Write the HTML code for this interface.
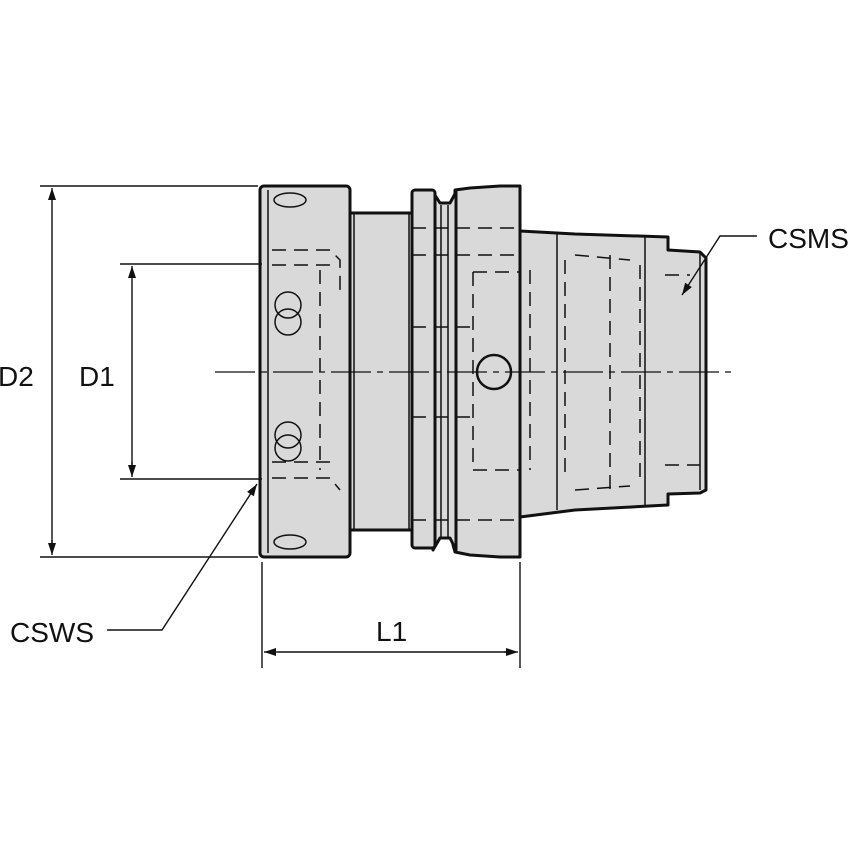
<!DOCTYPE html>
<html><head><style>
html,body{margin:0;padding:0;background:#fff;}
svg{display:block;}
text{font-family:"Liberation Sans",sans-serif;font-size:28px;fill:#111;}
</style></head><body>
<svg width="854" height="854" viewBox="0 0 854 854" xmlns="http://www.w3.org/2000/svg">
<defs>
<marker id="a" viewBox="0 0 12 8" refX="12" refY="4" markerWidth="14" markerHeight="8" orient="auto" markerUnits="userSpaceOnUse"><path d="M0,0 L12,4 L0,8 z" fill="#111"/></marker>
</defs>
<g fill="#d9d9d9" stroke="#111" stroke-width="3" stroke-linejoin="round">
<path d="M520,231 L575,234 L668,237 L668,250 L700,252 L706,258 L706,490 L700,493 L668,494 L668,505 L575,510 L520,517 Z"/>
<path d="M455,190 L470,188 L500,186 L520,186 L520,557 L500,557 L470,555 L455,552 L453,545 Z"/>
<path d="M433,192 L440,203 L450,203 L456,192 L456,550 L450,538 L440,538 L433,550 Z"/>
<rect x="412" y="190" width="23" height="358" rx="3"/>
<rect x="350" y="213" width="62" height="317"/>
<rect x="260" y="186" width="90" height="371" rx="4"/>
</g>
<g fill="none" stroke="#111" stroke-width="1.5">
<line x1="268" y1="190" x2="268" y2="553"/>
<line x1="354" y1="213" x2="354" y2="530"/>
<line x1="409" y1="213" x2="409" y2="530"/>
<line x1="441" y1="205" x2="441" y2="538"/>
<line x1="448" y1="205" x2="448" y2="538"/>
<line x1="557" y1="234" x2="557" y2="510"/>
<line x1="645" y1="237" x2="645" y2="505"/>
<line x1="700" y1="252" x2="700" y2="490"/>
<ellipse cx="290" cy="200" rx="16" ry="7"/>
<ellipse cx="290" cy="542" rx="16" ry="7"/>
<circle cx="288" cy="305" r="13"/><circle cx="288" cy="322" r="13"/>
<circle cx="288" cy="435" r="13"/><circle cx="288" cy="448" r="13"/>
</g>
<g fill="none" stroke="#111" stroke-width="1.5" stroke-dasharray="14,8">
<path d="M272,250 L330,250 L340,260 L340,290 M272,265 L330,265 M320,270 L320,470 M272,478 L330,478 L340,490 M272,462 L330,462"/>
<path d="M412,228 L520,228 M412,255 L520,255 M412,327 L470,327 M412,417 L470,417 M412,520 L520,520"/>
<path d="M473,272 L473,470 L520,470 M473,272 L520,272 M530,270 L530,470"/>
<path d="M565,260 L565,480 M610,255 L610,490 M640,265 L640,480 M575,255 L630,260 M575,490 L630,486"/>
<path d="M665,275 L690,275 M665,465 L700,465"/>
</g>
<circle cx="494" cy="372" r="17" fill="#d9d9d9" stroke="#111" stroke-width="2.5"/>
<line x1="215" y1="372" x2="735" y2="372" stroke="#111" stroke-width="1.3" stroke-dasharray="40,6,6,6"/>
<g stroke="#111" stroke-width="1.4" fill="none">
<line x1="40" y1="186" x2="258" y2="186"/>
<line x1="40" y1="557" x2="258" y2="557"/>
<line x1="52" y1="200" x2="52" y2="188" marker-end="url(#a)"/>
<line x1="52" y1="200" x2="52" y2="543"/>
<line x1="52" y1="540" x2="52" y2="555" marker-end="url(#a)"/>
<line x1="120" y1="264" x2="262" y2="264"/>
<line x1="120" y1="479" x2="262" y2="479"/>
<line x1="132" y1="280" x2="132" y2="266" marker-end="url(#a)"/>
<line x1="132" y1="280" x2="132" y2="465"/>
<line x1="132" y1="462" x2="132" y2="477" marker-end="url(#a)"/>
<line x1="262" y1="562" x2="262" y2="668"/>
<line x1="520" y1="562" x2="520" y2="668"/>
<line x1="278" y1="652" x2="264" y2="652" marker-end="url(#a)"/>
<line x1="278" y1="652" x2="506" y2="652"/>
<line x1="504" y1="652" x2="518" y2="652" marker-end="url(#a)"/>
<polyline points="107,630 162,630 257,484" marker-end="url(#a)"/>
<polyline points="757,236 720,236 682,295" marker-end="url(#a)"/>
</g>
<text x="-2" y="386">D2</text>
<text x="79" y="386">D1</text>
<text x="376" y="641">L1</text>
<text x="10" y="642">CSWS</text>
<text x="768" y="248">CSMS</text>
</svg>
</body></html>
